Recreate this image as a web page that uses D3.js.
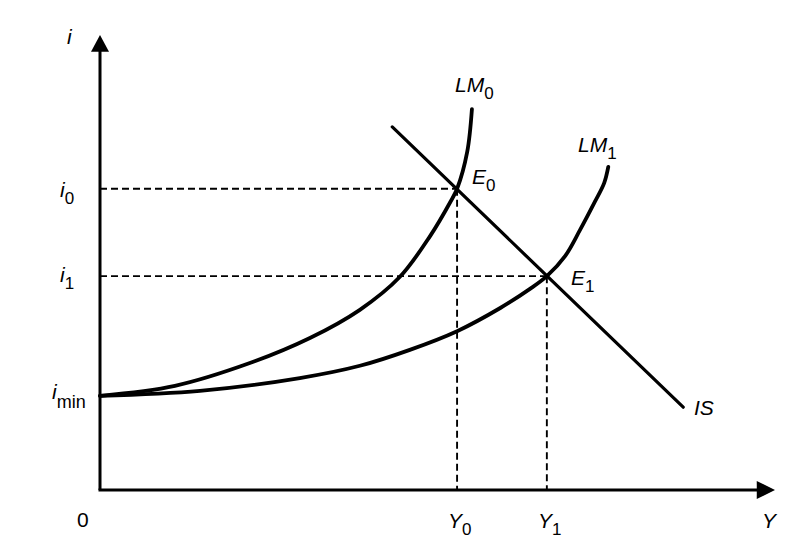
<!DOCTYPE html>
<html>
<head>
<meta charset="utf-8">
<script src="https://cdn.jsdelivr.net/npm/d3@7"></script>
<style>
  html, body { margin: 0; padding: 0; background: #fff; }
  svg { display: block; }
  text { font-family: "Liberation Sans", Arial, sans-serif; fill: #000; }
</style>
</head>
<body>
<svg id="chart" width="811" height="558"></svg>
<script>
// ---- data (Y = output, i = interest rate, 0..100 units) ----
const lm0Y = [0, 11.1, 22.2, 31.1, 38.5, 44.4, 48.9, 51.9, 52.9, 54.4, 55.1];
const lm0I = [20.7, 22.9, 27.9, 33.4, 39.6, 46.8, 55.8, 63.3, 66.2, 74.3, 83.7];
const lm1Y = [0, 14.8, 29.6, 38.5, 45.9, 52.9, 59.3, 63.7, 66.2, 68.9, 71.1, 73.3, 74.7, 75.3];
const lm1I = [20.7, 21.8, 24.6, 27.3, 30.8, 34.9, 40.0, 44.2, 47.0, 51.4, 57.1, 63.3, 67.5, 71.0];
const isY  = [43.3, 86.4];
const isI  = [79.8, 18.2];
const eqNames = ["0", "1"];
const eqY = [52.9, 66.2];
const eqI = [66.2, 47.0];

const svg = d3.select("#chart");
const x = d3.scaleLinear().domain([0, 100]).range([100, 775]);
const y = d3.scaleLinear().domain([0, 100]).range([490, 35]);

// dashed guide lines
const g = svg.append("g");
eqY.forEach((v, k) => {
  g.append("line").attr("x1", x(0)).attr("x2", x(v)).attr("y1", y(eqI[k])).attr("y2", y(eqI[k]))
    .attr("stroke", "#000").attr("stroke-width", 1.9).attr("stroke-dasharray", "7,4");
  g.append("line").attr("x1", x(v)).attr("x2", x(v)).attr("y1", y(eqI[k])).attr("y2", y(0))
    .attr("stroke", "#000").attr("stroke-width", 1.9).attr("stroke-dasharray", "7,4");
});

// axes
svg.append("line").attr("x1", x(0)).attr("x2", x(0)).attr("y1", y(0)).attr("y2", y(96.5))
  .attr("stroke", "#000").attr("stroke-width", 3);
svg.append("line").attr("x1", x(0) - 1.5).attr("x2", x(97.5)).attr("y1", y(0)).attr("y2", y(0))
  .attr("stroke", "#000").attr("stroke-width", 3);
svg.append("path")
  .attr("d", `M${x(0)},${y(100)} L${x(0) - 9},${y(96.3)} L${x(0) + 9},${y(96.3)} Z`)
  .attr("fill", "#000");
svg.append("path")
  .attr("d", `M${x(100)},${y(0)} L${x(97.3)},${y(0) - 9} L${x(97.3)},${y(0) + 9} Z`)
  .attr("fill", "#000");

// curves
const line = d3.line().x(d => x(d[0])).y(d => y(d[1])).curve(d3.curveCatmullRom.alpha(0.5));
svg.append("path").attr("d", line(lm0Y.map((v, k) => [v, lm0I[k]])))
  .attr("fill", "none").attr("stroke", "#000").attr("stroke-width", 3.8).attr("stroke-linecap", "round");
svg.append("path").attr("d", line(lm1Y.map((v, k) => [v, lm1I[k]])))
  .attr("fill", "none").attr("stroke", "#000").attr("stroke-width", 3.8).attr("stroke-linecap", "round");
svg.append("path").attr("d", d3.line().x(d => x(d[0])).y(d => y(d[1]))(isY.map((v, k) => [v, isI[k]])))
  .attr("fill", "none").attr("stroke", "#000").attr("stroke-width", 3.2).attr("stroke-linecap", "round");

// labels
function label(px, py, main, sub, opts = {}) {
  const t = svg.append("text").attr("x", px).attr("y", py)
    .attr("font-size", opts.size || 21)
    .attr("font-style", opts.italic === false ? "normal" : "italic");
  t.append("tspan").text(main);
  if (sub) {
    t.append("tspan").attr("dy", opts.subDy || 7).attr("font-size", opts.subSize || 17)
      .attr("font-style", "normal").text(sub);
  }
  return t;
}
label(67, 44, "i");
label(60, 197, "i", eqNames[0]);
label(60, 282, "i", eqNames[1]);
label(52, 399, "i", "min", { subDy: 9, subSize: 18 });
label(77, 527, "0", null, { italic: false });
label(448, 528, "Y", eqNames[0]);
label(538, 528, "Y", eqNames[1]);
label(762, 528, "Y");
label(455, 92, "LM", "0");
label(578, 152, "LM", "1");
label(472, 184, "E", eqNames[0]);
label(571, 285, "E", eqNames[1]);
label(694, 415, "IS");
</script>
</body>
</html>
